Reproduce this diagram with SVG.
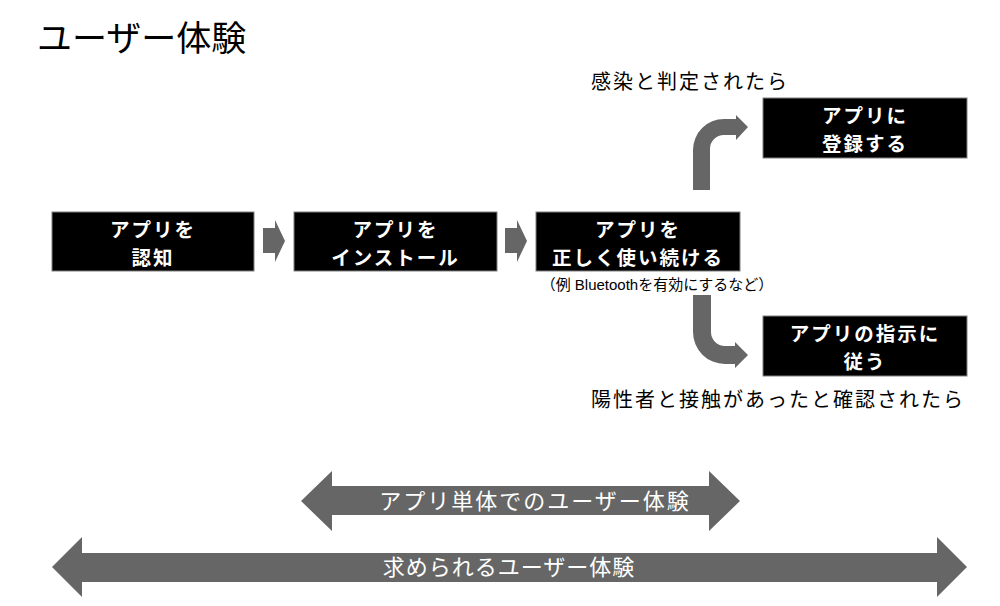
<svg xmlns="http://www.w3.org/2000/svg" width="1000" height="606" viewBox="0 0 1000 606">
  <style>
    .jp { font-family: "Noto Sans CJK JP", "Noto Sans", sans-serif; }
    .title { font-size: 35px; fill: #000; }
    .box { fill: #000; stroke: #808080; stroke-width: 1; }
    .bt { font-size: 19.5px; font-weight: bold; fill: #fff; text-anchor: middle; letter-spacing: 2px; }
    .cond { font-size: 20px; fill: #000; letter-spacing: 2px; }
    .note { font-family: "Liberation Sans", "Noto Sans CJK JP", sans-serif; font-size: 15px; fill: #000; text-anchor: middle; }
    .arr { fill: #666; }
    .at { font-size: 22px; fill: #fff; text-anchor: middle; }
  </style>
  <rect width="1000" height="606" fill="#fff"/>

  <text class="jp title" x="37" y="51">ユーザー体験</text>

  <g id="connectors">
    <polygon class="arr" points="263,228 275,228 275,220 285,241 275,262 275,253 263,253"/>
    <polygon class="arr" points="505,228 517,228 517,220 527,241 517,262 517,253 505,253"/>
    <path class="arr" d="M693,190 L693,150 A31,31 0 0 1 724,119 L736,119 L736,115 L748,127 L736,140 L736,135 L724,135 A14,14 0 0 0 710,149 L710,190 Z"/>
    <path class="arr" d="M693,295 L693,332 A32,32 0 0 0 725,364 L735,364 L735,368 L748,355 L735,342 L735,346 L725,346 A14,14 0 0 1 711,332 L711,295 Z"/>
  </g>

  <g id="node-recognize">
    <rect class="box" x="52" y="212" width="202" height="59"/>
    <text class="jp bt" x="153" y="237">アプリを</text>
    <text class="jp bt" x="153" y="265">認知</text>
  </g>

  <g id="node-install">
    <rect class="box" x="294" y="212" width="203" height="59"/>
    <text class="jp bt" x="395.5" y="237">アプリを</text>
    <text class="jp bt" x="395.5" y="265">インストール</text>
  </g>

  <g id="node-use">
    <rect class="box" x="536" y="212" width="204" height="59"/>
    <text class="jp bt" x="638" y="237">アプリを</text>
    <text class="jp bt" x="638" y="265">正しく使い続ける</text>
    <text class="note" x="657" y="290">（例 Bluetoothを有効にするなど）</text>
  </g>

  <g id="node-register">
    <text class="jp cond" x="591" y="89">感染と判定されたら</text>
    <rect class="box" x="763" y="98" width="204" height="60"/>
    <text class="jp bt" x="865" y="123">アプリに</text>
    <text class="jp bt" x="865" y="151">登録する</text>
  </g>

  <g id="node-follow">
    <rect class="box" x="763" y="316" width="204" height="60"/>
    <text class="jp bt" x="865" y="341">アプリの指示に</text>
    <text class="jp bt" x="865" y="369">従う</text>
    <text class="jp cond" x="591" y="407">陽性者と接触があったと確認されたら</text>
  </g>

  <g id="range-app">
    <polygon class="arr" points="301,501 332,471 332,486 709,486 709,471 740,501 709,531 709,515 332,515 332,531"/>
    <text class="jp at" x="535" y="509" style="letter-spacing:2px">アプリ単体でのユーザー体験</text>
  </g>

  <g id="range-required">
    <polygon class="arr" points="52,567 82,537 82,553 937,553 937,537 967,567 937,597 937,582 82,582 82,597"/>
    <text class="jp at" x="509" y="575" style="letter-spacing:1px">求められるユーザー体験</text>
  </g>
</svg>
